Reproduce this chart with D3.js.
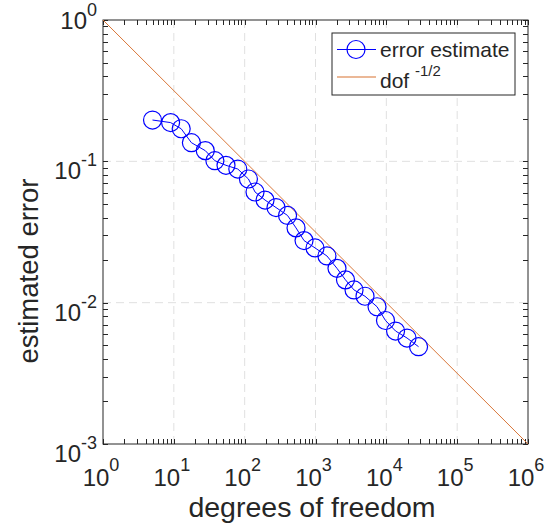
<!DOCTYPE html>
<html>
<head>
<meta charset="utf-8">
<script src="https://cdn.jsdelivr.net/npm/d3@7"></script>
<style>
  body { margin: 0; background: #fff; }
  svg text { font-family: "Liberation Sans", Arial, sans-serif; fill: #262626; }
</style>
</head>
<body>
<svg width="550" height="531"></svg>
<script>
// degrees of freedom vs estimated error
var dof = [5, 9, 12.7, 17.7, 27.8, 38, 54.5, 80, 113, 140, 194, 277, 403, 531, 689,
  984, 1450, 2010, 2650, 3500, 5000, 7390, 9730, 13500, 19600, 28500];
var err = [0.196, 0.188, 0.170, 0.1355, 0.119, 0.101, 0.0937, 0.0882, 0.075, 0.0607,
  0.0532, 0.0471, 0.0414, 0.0338, 0.0275, 0.0244, 0.0214, 0.0175, 0.0145, 0.0123,
  0.0111, 0.00936, 0.00748, 0.0063, 0.00562, 0.00488];
// reference line dof^-1/2
var refDof = [1, 1e6];
var refErr = [1, 1e-3];

var xExps = [0, 1, 2, 3, 4, 5, 6];
var yExps = [-3, -2, -1, 0];

var svg = d3.select('svg');
var pL = 103, pR = 528, pT = 20, pB = 444;

var x = d3.scaleLog().domain([1, 1e6]).range([pL, pR]);
var y = d3.scaleLog().domain([1e-3, 1]).range([pB, pT]);

var axisCol = '#262626';
var orange = '#d9773a';

// grid (major only, dashed)
svg.append('g').selectAll('line')
  .data(xExps.slice(1, -1))
  .enter().append('line')
  .attr('x1', function(d) { return x(Math.pow(10, d)); })
  .attr('x2', function(d) { return x(Math.pow(10, d)); })
  .attr('y1', pT).attr('y2', pB)
  .attr('stroke', '#e0e0e0').attr('stroke-dasharray', '8,5');
svg.append('g').selectAll('line')
  .data(yExps.slice(1, -1))
  .enter().append('line')
  .attr('y1', function(d) { return y(Math.pow(10, d)); })
  .attr('y2', function(d) { return y(Math.pow(10, d)); })
  .attr('x1', pL).attr('x2', pR)
  .attr('stroke', '#e0e0e0').attr('stroke-dasharray', '8,5');

// ticks on all four sides, pointing inward
var xTickVals = x.ticks();
var yTickVals = y.ticks();
var tl = 5;
var ticks = svg.append('g').attr('stroke', axisCol).attr('stroke-width', 1);
xTickVals.forEach(function(v) {
  var px = Math.round(x(v)) + 0.5;
  ticks.append('line').attr('x1', px).attr('x2', px).attr('y1', pB).attr('y2', pB - tl);
  ticks.append('line').attr('x1', px).attr('x2', px).attr('y1', pT).attr('y2', pT + tl);
});
yTickVals.forEach(function(v) {
  var py = Math.round(y(v)) + 0.5;
  ticks.append('line').attr('y1', py).attr('y2', py).attr('x1', pL).attr('x2', pL + tl);
  ticks.append('line').attr('y1', py).attr('y2', py).attr('x1', pR).attr('x2', pR - tl);
});

// box
svg.append('rect')
  .attr('x', pL).attr('y', pT)
  .attr('width', pR - pL).attr('height', pB - pT)
  .attr('fill', 'none').attr('stroke', axisCol).attr('stroke-width', 1);

// reference line
var line = d3.line()
  .x(function(d) { return x(d[0]); })
  .y(function(d) { return y(d[1]); });
svg.append('path')
  .datum(d3.zip(refDof, refErr))
  .attr('d', line)
  .attr('fill', 'none').attr('stroke', orange).attr('stroke-width', 1);

// error estimate
var pts = d3.zip(dof, err);
svg.append('path')
  .datum(pts)
  .attr('d', line)
  .attr('fill', 'none').attr('stroke', '#0000ff').attr('stroke-width', 1);
svg.append('g').selectAll('circle')
  .data(pts)
  .enter().append('circle')
  .attr('cx', function(d) { return x(d[0]); })
  .attr('cy', function(d) { return y(d[1]); })
  .attr('r', 9)
  .attr('fill', 'none').attr('stroke', '#0000ff').attr('stroke-width', 1.2);

// tick labels
var tickFs = 24, supFs = 18;
var xl = svg.append('g').selectAll('text')
  .data(xExps)
  .enter().append('text')
  .attr('x', function(d) { return x(Math.pow(10, d)) - 2; })
  .attr('y', 486)
  .attr('text-anchor', 'middle')
  .style('font-size', tickFs + 'px');
xl.append('tspan').text('10');
xl.append('tspan').attr('dy', -15).style('font-size', supFs + 'px').text(function(d) { return d; });

var yl = svg.append('g').selectAll('text')
  .data(yExps)
  .enter().append('text')
  .attr('x', 97)
  .attr('y', function(d) { return y(Math.pow(10, d)) + (d === 0 ? 9 : 18); })
  .attr('text-anchor', 'end')
  .style('font-size', tickFs + 'px');
yl.append('tspan').text('10');
yl.append('tspan').attr('dy', -13).style('font-size', supFs + 'px').text(function(d) { return d; });

// axis labels
svg.append('text')
  .attr('x', 312).attr('y', 517)
  .attr('text-anchor', 'middle')
  .style('font-size', '28.5px')
  .text('degrees of freedom');
svg.append('text')
  .attr('transform', 'translate(38,271) rotate(-90)')
  .attr('text-anchor', 'middle')
  .style('font-size', '27.5px')
  .text('estimated error');

// legend
var lg = svg.append('g');
lg.append('rect')
  .attr('x', 332).attr('y', 33).attr('width', 183).attr('height', 62)
  .attr('fill', '#fff').attr('stroke', axisCol).attr('stroke-width', 1);
lg.append('line').attr('x1', 337).attr('x2', 376).attr('y1', 49.5).attr('y2', 49.5)
  .attr('stroke', '#0000ff').attr('stroke-width', 1);
lg.append('circle').attr('cx', 356).attr('cy', 49.5).attr('r', 9)
  .attr('fill', 'none').attr('stroke', '#0000ff').attr('stroke-width', 1.2);
lg.append('text').attr('x', 380).attr('y', 57).style('font-size', '21px').text('error estimate');
lg.append('line').attr('x1', 337).attr('x2', 376).attr('y1', 77).attr('y2', 77)
  .attr('stroke', orange).attr('stroke-width', 1.5).attr('stroke-opacity', 0.7);
var dt = lg.append('text').attr('x', 380).attr('y', 88).style('font-size', '21px');
dt.append('tspan').text('dof ');
dt.append('tspan').attr('dy', -12).style('font-size', '15px').text('-1/2');
</script>
</body>
</html>
